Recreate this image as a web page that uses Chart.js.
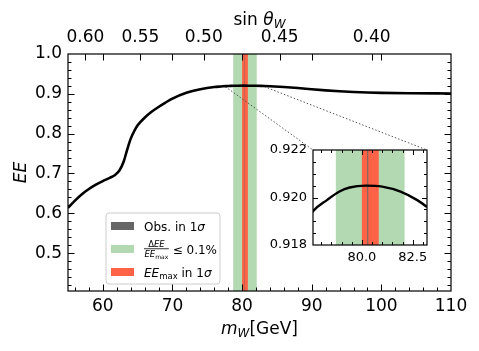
<!DOCTYPE html>
<html>
<head>
<meta charset="utf-8">
<script src="https://cdn.jsdelivr.net/npm/chart.js@4.4.0/dist/chart.umd.min.js"></script>
<style>
  html, body { margin: 0; padding: 0; background: #fff; }
  #wrap { position: relative; width: 479px; height: 351px; }
  #wrap canvas { position: absolute; left: 0; top: 0; }
</style>
</head>
<body>
<div id="wrap">
  <canvas id="grafica" width="479" height="351"></canvas>
  <canvas id="inset" width="479" height="351"></canvas>
</div>
<script>
// curve EE(mW)
const mW = [55, 56, 57, 58, 59, 60, 61, 61.8, 62.4, 63, 63.5, 64, 64.5, 65, 66, 67, 68, 69, 70,
  72, 74, 76, 77, 77.6, 78.3, 78.9, 79.4, 80.2, 81.0, 81.9, 82.7, 83.2,
  84, 86, 88, 90, 92, 94, 96, 98, 100, 104, 110];
const ee = [0.614, 0.632, 0.648, 0.661, 0.672, 0.681, 0.689, 0.697, 0.708, 0.730, 0.760, 0.787, 0.806, 0.821, 0.840, 0.855, 0.867, 0.878, 0.888,
  0.9025, 0.9115, 0.9172, 0.9186, 0.91942, 0.91990, 0.92025, 0.92042, 0.92050, 0.92046, 0.92025, 0.91990, 0.91960,
  0.9190, 0.9170, 0.9145, 0.9115, 0.9087, 0.9063, 0.9045, 0.9032, 0.9024, 0.9015, 0.9010];

// bands (GeV)
const obsBand = [80.265, 80.29];
const eeMaxBand = [80.0, 80.83];
const flatBand = [78.72, 82.1];

// ticks
const xTickVals = [60, 70, 80, 90, 100, 110];
const yTickVals = [0.5, 0.6, 0.7, 0.8, 0.9, 1.0];
const sinLabels = ['0.60', '0.55', '0.50', '0.45', '0.40'];
const sinAtMW = [57.5, 65.4, 74.5, 85.4, 98.6];
const insetXTicks = [80.0, 82.5];
const insetYTicks = [0.918, 0.920, 0.922];
const zoomX = [77.6, 83.2];
const zoomY = [0.918, 0.922];

const FONT = 'DejaVu Sans';
const GREEN = '#b2d9b2';
const RED = '#ff6347';
const OBS = '#666666';
Chart.defaults.font.family = FONT;
Chart.defaults.color = '#000';

function range(a, b, step) {
  const out = [];
  for (let v = a; v <= b + step / 1000; v += step) out.push(+v.toFixed(6));
  return out;
}

function fixTicks(vals) {
  return function (s) { s.ticks = vals.map(v => ({ value: v })); };
}

function drawBands(chart, obsMin) {
  const ctx = chart.ctx, a = chart.chartArea, x = chart.scales.x;
  ctx.save();
  ctx.beginPath();
  ctx.rect(a.left, a.top, a.right - a.left, a.bottom - a.top);
  ctx.clip();
  [[flatBand, GREEN, 0], [eeMaxBand, RED, 0], [obsBand, OBS, obsMin]].forEach(([b, c, mn]) => {
    const p0 = x.getPixelForValue(b[0]), p1 = x.getPixelForValue(b[1]);
    ctx.fillStyle = c;
    ctx.fillRect(p0, a.top, Math.max(mn, p1 - p0), a.bottom - a.top);
  });
  ctx.restore();
}

function tickMarks(ctx, a, scale, vals, len, side) {
  ctx.beginPath();
  vals.forEach(v => {
    const p = Math.round(scale.getPixelForValue(v)) + 0.5;
    if (side === 'bottom') { ctx.moveTo(p, a.bottom); ctx.lineTo(p, a.bottom - len); }
    if (side === 'top') { ctx.moveTo(p, a.top); ctx.lineTo(p, a.top + len); }
    if (side === 'left') { ctx.moveTo(a.left, p); ctx.lineTo(a.left + len, p); }
    if (side === 'right') { ctx.moveTo(a.right, p); ctx.lineTo(a.right - len, p); }
  });
  ctx.stroke();
}

function frame(ctx, a) {
  ctx.strokeStyle = '#000';
  ctx.lineWidth = 1.2;
  ctx.strokeRect(a.left, a.top, a.right - a.left, a.bottom - a.top);
}

// draw a run of text pieces centred on cx
function textRun(ctx, parts, cx, y) {
  let w = 0;
  parts.forEach(p => { ctx.font = p.f; w += ctx.measureText(p.t).width; });
  textLeft(ctx, parts, cx - w / 2, y);
}

function textLeft(ctx, parts, x, y) {
  ctx.textBaseline = 'alphabetic';
  ctx.textAlign = 'left';
  parts.forEach(p => {
    ctx.font = p.f;
    ctx.fillText(p.t, x, y + (p.dy || 0));
    x += ctx.measureText(p.t).width;
  });
  return x;
}

function runWidth(ctx, parts) {
  let w = 0;
  parts.forEach(p => { ctx.font = p.f; w += ctx.measureText(p.t).width; });
  return w;
}

function drawLegend(ctx) {
  const bx = 106, by = 213, bw = 114, bh = 71, r = 3;
  ctx.save();
  ctx.beginPath();
  ctx.moveTo(bx + r, by);
  ctx.arcTo(bx + bw, by, bx + bw, by + bh, r);
  ctx.arcTo(bx + bw, by + bh, bx, by + bh, r);
  ctx.arcTo(bx, by + bh, bx, by, r);
  ctx.arcTo(bx, by, bx + bw, by, r);
  ctx.closePath();
  ctx.fillStyle = 'rgba(255,255,255,0.8)';
  ctx.fill();
  ctx.strokeStyle = '#cccccc';
  ctx.lineWidth = 1;
  ctx.stroke();

  const rows = [226, 249, 272];
  const cols = [OBS, GREEN, RED];
  rows.forEach((cy, i) => {
    ctx.fillStyle = cols[i];
    ctx.fillRect(111, cy - 4, 23, 8);
  });
  ctx.fillStyle = '#000';
  const up = '12px ' + FONT, it = 'italic 12px ' + FONT;
  textLeft(ctx, [{ t: 'Obs. in 1', f: up }, { t: 'σ', f: it }], 144, rows[0] + 4.5);

  // fraction  ΔEE / EE_max
  const num = [{ t: 'Δ', f: '8.5px ' + FONT }, { t: 'EE', f: 'italic 8.5px ' + FONT }];
  const den = [{ t: 'EE', f: 'italic 8.5px ' + FONT }, { t: 'max', f: '6px ' + FONT, dy: 2 }];
  const numW = runWidth(ctx, num), denW = runWidth(ctx, den);
  const fw = Math.max(numW, denW) + 1;
  const fx = 144, cy = rows[1];
  textLeft(ctx, num, fx + (fw - numW) / 2, cy - 2.5);
  textLeft(ctx, den, fx + (fw - denW) / 2, cy + 7.5);
  ctx.fillRect(fx, cy - 0.6, fw, 0.8);
  textLeft(ctx, [{ t: ' ≤ 0.1%', f: up }], fx + fw, cy + 4.5);

  textLeft(ctx, [{ t: 'EE', f: it }, { t: 'max', f: '8.5px ' + FONT, dy: 2.5 }, { t: ' in 1', f: up }, { t: 'σ', f: it }], 144, rows[2] + 4.5);
  ctx.restore();
}

const mainDecor = {
  id: 'mainDecor',
  beforeDatasetsDraw(chart) {
    drawBands(chart, 0.4);
    // zoom connectors
    const ctx = chart.ctx, x = chart.scales.x, y = chart.scales.y;
    const ia = insetChart.chartArea;
    ctx.save();
    ctx.strokeStyle = '#555';
    ctx.lineWidth = 1;
    ctx.setLineDash([1.5, 2]);
    ctx.beginPath();
    ctx.moveTo(x.getPixelForValue(zoomX[0]), y.getPixelForValue(zoomY[0]));
    ctx.lineTo(ia.left, ia.top);
    ctx.moveTo(x.getPixelForValue(zoomX[1]), y.getPixelForValue(zoomY[0]));
    ctx.lineTo(ia.right, ia.top);
    ctx.stroke();
    ctx.restore();
  },
  afterDatasetsDraw(chart) {
    drawLegend(chart.ctx);
  },
  afterDraw(chart) {
    const ctx = chart.ctx, a = chart.chartArea, x = chart.scales.x, y = chart.scales.y;
    ctx.save();
    frame(ctx, a);
    ctx.lineWidth = 1;
    const xMinor = range(56, 108, 2).filter(v => !xTickVals.includes(v));
    const yMinor = range(0.42, 0.98, 0.02).filter(v => !yTickVals.some(t => Math.abs(t - v) < 1e-6));
    tickMarks(ctx, a, x, xTickVals.slice(0, -1), 6.5, 'bottom');
    tickMarks(ctx, a, x, xMinor, 3.5, 'bottom');
    tickMarks(ctx, a, x, xTickVals.slice(0, -1), 6.5, 'top');
    tickMarks(ctx, a, x, sinAtMW, 6.5, 'top');
    tickMarks(ctx, a, y, yTickVals.slice(0, -1), 6.5, 'left');
    tickMarks(ctx, a, y, yMinor, 3.5, 'left');
    tickMarks(ctx, a, y, yTickVals.slice(0, -1), 6.5, 'right');
    tickMarks(ctx, a, y, yMinor, 3.5, 'right');

    // axis titles
    ctx.fillStyle = '#000';
    const cx = (a.left + a.right) / 2;
    textRun(ctx, [{ t: 'm', f: 'italic 17px ' + FONT }, { t: 'W', f: 'italic 12px ' + FONT, dy: 3 },
      { t: '[GeV]', f: '17px ' + FONT }], cx, 334);
    textRun(ctx, [{ t: 'sin ', f: '17px ' + FONT }, { t: 'θ', f: 'italic 17px ' + FONT },
      { t: 'W', f: 'italic 12px ' + FONT, dy: 3 }], cx, 25);
    ctx.translate(26, (a.top + a.bottom) / 2);
    ctx.rotate(-Math.PI / 2);
    textRun(ctx, [{ t: 'EE', f: 'italic 17px ' + FONT }], 0, 0);
    ctx.restore();
  }
};

const insetDecor = {
  id: 'insetDecor',
  beforeDraw(chart) {
    const ctx = chart.ctx, a = chart.chartArea;
    ctx.save();
    ctx.fillStyle = '#fff';
    ctx.fillRect(a.left, a.top, a.right - a.left, a.bottom - a.top);
    ctx.restore();
  },
  beforeDatasetsDraw(chart) {
    drawBands(chart, 1);
  },
  afterDraw(chart) {
    const ctx = chart.ctx, a = chart.chartArea, x = chart.scales.x, y = chart.scales.y;
    ctx.save();
    frame(ctx, a);
    ctx.lineWidth = 1;
    const xMinor = range(78.0, 83.0, 0.5).filter(v => !insetXTicks.includes(v));
    const yMinor = range(0.9185, 0.9215, 0.0005).filter(v => !insetYTicks.some(t => Math.abs(t - v) < 1e-7));
    ['bottom', 'top'].forEach(s => {
      tickMarks(ctx, a, x, insetXTicks, 5, s);
      tickMarks(ctx, a, x, xMinor, 3, s);
    });
    ['left', 'right'].forEach(s => {
      tickMarks(ctx, a, y, insetYTicks.slice(1, -1), 5, s);
      tickMarks(ctx, a, y, yMinor, 3, s);
    });
    ctx.restore();
  }
};

const curve = mW.map((v, i) => ({ x: v, y: ee[i] }));

const insetChart = new Chart(document.getElementById('inset'), {
  type: 'line',
  data: {
    datasets: [{
      data: curve,
      borderColor: '#000',
      borderWidth: 2.4,
      pointRadius: 0,
      cubicInterpolationMode: 'monotone',
      clip: 0
    }]
  },
  options: {
    responsive: false,
    animation: false,
    events: [],
    layout: { padding: { left: 253, top: 150, right: 52, bottom: 76 } },
    scales: {
      x: {
        type: 'linear', min: zoomX[0], max: zoomX[1],
        afterBuildTicks: fixTicks(insetXTicks),
        afterFit: s => { s.height = 30; },
        grid: { display: false, drawTicks: false },
        border: { display: false },
        ticks: { font: { size: 13 }, padding: 5, maxRotation: 0, autoSkip: false, callback: v => v.toFixed(1) }
      },
      y: {
        type: 'linear', min: zoomY[0], max: zoomY[1],
        afterBuildTicks: fixTicks(insetYTicks),
        afterFit: s => { s.width = 60; },
        grid: { display: false, drawTicks: false },
        border: { display: false },
        ticks: { font: { size: 13 }, padding: 6, autoSkip: false, callback: v => v.toFixed(3) }
      }
    },
    plugins: { legend: { display: false }, tooltip: { enabled: false } }
  },
  plugins: [insetDecor]
});

new Chart(document.getElementById('grafica'), {
  type: 'line',
  data: {
    datasets: [{
      data: curve,
      borderColor: '#000',
      borderWidth: 2.6,
      pointRadius: 0,
      cubicInterpolationMode: 'monotone',
      xAxisID: 'x',
      yAxisID: 'y'
    }]
  },
  options: {
    responsive: false,
    animation: false,
    events: [],
    layout: { padding: { left: 0, top: 0, right: 28, bottom: 0 } },
    scales: {
      x: {
        type: 'linear', position: 'bottom', min: 55, max: 110,
        afterBuildTicks: fixTicks(xTickVals),
        afterFit: s => { s.height = 60; },
        grid: { display: false, drawTicks: false },
        border: { display: false },
        ticks: { font: { size: 17 }, padding: 5, maxRotation: 0, autoSkip: false, callback: v => String(v) }
      },
      xTop: {
        type: 'linear', position: 'top', min: 55, max: 110,
        afterBuildTicks: fixTicks(sinAtMW),
        afterFit: s => { s.height = 54; },
        grid: { display: false, drawTicks: false },
        border: { display: false },
        ticks: { font: { size: 17 }, padding: 6, maxRotation: 0, autoSkip: false, callback: (v, i) => sinLabels[i] }
      },
      y: {
        type: 'linear', position: 'left', min: 0.405, max: 1.0,
        afterBuildTicks: fixTicks(yTickVals),
        afterFit: s => { s.width = 68; },
        grid: { display: false, drawTicks: false },
        border: { display: false },
        ticks: { font: { size: 17 }, padding: 6, autoSkip: false, callback: v => v.toFixed(1) }
      }
    },
    plugins: { legend: { display: false }, tooltip: { enabled: false } }
  },
  plugins: [mainDecor]
});
</script>
</body>
</html>
